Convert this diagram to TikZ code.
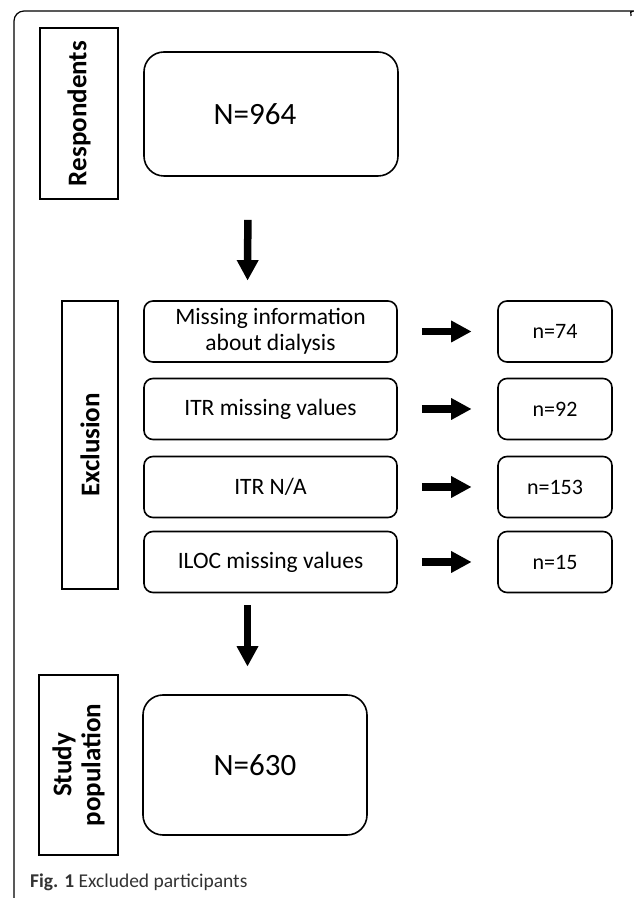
\documentclass[tikz,border=0pt]{standalone}
\usepackage{fontspec}
\setmainfont{Carlito}
\usetikzlibrary{arrows.meta}

\begin{document}
\begin{tikzpicture}[x=1pt,y=1pt,
        stage/.style={draw,line width=1.6pt,rotate=90,inner sep=0pt,align=center,
            font=\fontsize{27}{29}\selectfont\bfseries},
        total/.style={draw,line width=1.6pt,rounded corners=20pt,inner sep=0pt,
            font=\fontsize{31}{34}\selectfont},
        reason/.style={draw,line width=1.6pt,rounded corners=9pt,inner sep=0pt,align=center,
            minimum width=253pt,minimum height=61pt,font=\fontsize{23.5}{25.5}\selectfont},
        count/.style={draw,line width=1.6pt,rounded corners=9pt,inner sep=0pt,
            minimum width=114pt,minimum height=61pt,font=\fontsize{22}{24}\selectfont},
        fat/.style={line width=7.5pt,-{Triangle[width=22pt,length=20pt,line width=0pt]}}]
        \useasboundingbox (0, 0) rectangle (633, 898);
        % frame
        \draw[line width=1.2pt,rounded corners=10pt] (14, 0) -- (14, 887) -- (626, 887) arc[start angle=90,end angle=0,radius=5pt];
        % left column
        \node[stage,minimum width=171pt,minimum height=78pt] (resp) at (79, 784.5) {Respondents};
        \node[stage,minimum width=288pt,minimum height=56pt] (excl) at (90, 453) {Exclusion};
        \node[stage,minimum width=180pt,minimum height=79pt] (study) at (78.5, 133) {Study\\population};
        % totals
        \node[total,minimum width=254pt,minimum height=124pt] (n964) at (271, 784) {N=964\hspace*{32pt}};
        \node[total,minimum width=224pt,minimum height=140pt] (n630) at (255, 133) {N=630};
        % exclusion reasons
        \node[reason] (miss) at (270.5, 566.5) {Missing information\\about dialysis};
        \node[reason] (itrmiss) at (270.5, 489) {ITR missing values};
        \node[reason] (itrna) at (270.5, 411) {ITR N/A};
        \node[reason] (iloc) at (270.5, 336) {ILOC missing values};
        \node[count] (k74) at (555, 566.5) {n=74};
        \node[count] (k92) at (555, 489) {n=92};
        \node[count] (k153) at (555, 411) {n=153};
        \node[count] (k15) at (555, 336) {n=15};
        % arrows
        \draw[fat,shorten <=43pt,shorten >=20pt] ([xshift=-23pt]n964.south) -- ([xshift=-23pt]miss.north);
        \draw[fat,shorten <=12pt,shorten >=28pt] ([xshift=-23pt]iloc.south) -- ([xshift=-23pt]iloc.south |- n630.north);
        \draw[fat,shorten <=24pt,shorten >=26pt] (miss) -- (k74);
        \draw[fat,shorten <=24pt,shorten >=26pt] (itrmiss) -- (k92);
        \draw[fat,shorten <=24pt,shorten >=26pt] (itrna) -- (k153);
        \draw[fat,shorten <=24pt,shorten >=26pt] (iloc) -- (k15);
        % caption
        \node[anchor=base west,inner sep=0pt,text=black!80,font=\fontsize{19.5}{22}\selectfont] (cap) at (30, 10) {\textbf{Fig. 1} Excluded participants};
    \end{tikzpicture}
\end{document}
